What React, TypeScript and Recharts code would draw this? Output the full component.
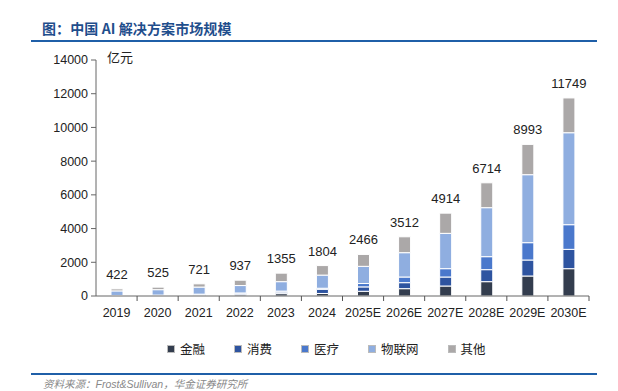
import { BarChart, Bar, XAxis, YAxis, LabelList } from 'recharts'

// 中国AI解决方案市场规模（亿元）
const years = ['2019', '2020', '2021', '2022', '2023', '2024', '2025E', '2026E', '2027E', '2028E', '2029E', '2030E']
const totals = [422, 525, 721, 937, 1355, 1804, 2466, 3512, 4914, 6714, 8993, 11749]
const finance = [10, 20, 40, 70, 140, 150, 280, 435, 593, 850, 1186, 1621]
const consumer = [10, 15, 30, 60, 90, 250, 260, 356, 534, 712, 949, 1146]
const medical = [12, 20, 40, 50, 60, 60, 200, 336, 494, 771, 1028, 1463]
const iot = [270, 320, 420, 440, 560, 780, 1020, 1443, 2095, 2906, 4033, 5456]
const other = [120, 150, 191, 317, 505, 564, 706, 942, 1198, 1475, 1797, 2063]
const yTicks = [0, 2000, 4000, 6000, 8000, 10000, 12000, 14000]

const series = [
  { key: '金融', values: finance, color: '#333d4e' },
  { key: '消费', values: consumer, color: '#2e54a0' },
  { key: '医疗', values: medical, color: '#4a78cc' },
  { key: '物联网', values: iot, color: '#8faee0' },
  { key: '其他', values: other, color: '#aba8a8' },
]

const data = years.map((year, i) => {
  const row: any = { year }
  series.forEach(s => { row[s.key] = s.values[i] })
  return row
})

const FONT = '"Liberation Sans", Arial, "Noto Sans CJK SC", sans-serif'
const W = 618
const H = 391
const MARGIN = { top: 60, right: 29, left: 0, bottom: 65 }
const Y_WIDTH = 96
const BAND = (W - MARGIN.right - Y_WIDTH) / years.length

function XTick(props: any) {
  const { x, y, payload } = props
  return (
    <g>
      <line x1={x + BAND / 2} x2={x + BAND / 2} y1={y} y2={y + 5} stroke="#555" strokeWidth={1} />
      <text x={x} y={y + 21} textAnchor="middle" fontSize={12.5} fill="#222" fontFamily={FONT}>
        {payload.value}
      </text>
    </g>
  )
}

function TotalLabel(props: any) {
  const { x, y, width, index } = props
  return (
    <text x={x + width / 2} y={y - 10} textAnchor="middle" fontSize={13} fill="#222" fontFamily={FONT}>
      {totals[index]}
    </text>
  )
}

export default function App() {
  return (
    <div style={{ position: 'absolute', left: 0, top: 0, width: W, height: H, background: '#fff', fontFamily: FONT, overflow: 'hidden' }}>
      <div style={{ position: 'absolute', left: 42, top: 18, fontSize: 14, fontWeight: 700, color: '#1f4e8c', fontFamily: '"Noto Sans CJK SC", sans-serif', letterSpacing: 0.1, whiteSpace: 'nowrap' }}>
        图：中国 AI 解决方案市场规模
      </div>
      <div style={{ position: 'absolute', left: 31, top: 40, width: 566, height: 2, background: '#1f5fa8' }} />

      <div style={{ position: 'absolute', left: 107, top: 47, fontSize: 13, color: '#222', fontFamily: FONT }}>亿元</div>

      <BarChart width={W} height={H} data={data} margin={MARGIN}>
        <XAxis
          dataKey="year"
          height={30}
          tickLine={false}
          tickSize={0}
          tickMargin={0}
          interval={0}
          axisLine={{ stroke: '#666' }}
          tick={<XTick />}
        />
        <YAxis
          width={Y_WIDTH}
          domain={[0, 14000]}
          ticks={yTicks}
          interval={0}
          tickSize={5}
          tickMargin={3}
          axisLine={{ stroke: '#666' }}
          tickLine={{ stroke: '#666' }}
          tick={{ fontSize: 12.5, fill: '#222', fontFamily: FONT }}
        />
        {series.map((s, i) => (
          <Bar key={s.key} dataKey={s.key} stackId="a" fill={s.color} barSize={12} stroke="#fff" strokeWidth={1} isAnimationActive={false}>
            {i === series.length - 1 && <LabelList dataKey={s.key} content={<TotalLabel />} />}
          </Bar>
        ))}
      </BarChart>

      <div style={{ position: 'absolute', left: 167, top: 339, display: 'flex', gap: 29, fontSize: 12.5, color: '#222', whiteSpace: 'nowrap' }}>
        {series.map(s => (
          <div key={s.key} style={{ display: 'flex', alignItems: 'center' }}>
            <span style={{ width: 6, height: 6, background: s.color, border: '0.5px solid #bbb', marginRight: 5, display: 'inline-block' }} />
            <span>{s.key}</span>
          </div>
        ))}
      </div>

      <div style={{ position: 'absolute', left: 31, top: 373, width: 566, height: 2, background: '#1f5fa8' }} />
      <div style={{ position: 'absolute', left: 43, top: 378, fontSize: 10.5, lineHeight: '12px', fontStyle: 'italic', color: '#888', whiteSpace: 'nowrap' }}>
        资料来源：Frost&amp;Sullivan，华金证券研究所
      </div>
    </div>
  )
}
